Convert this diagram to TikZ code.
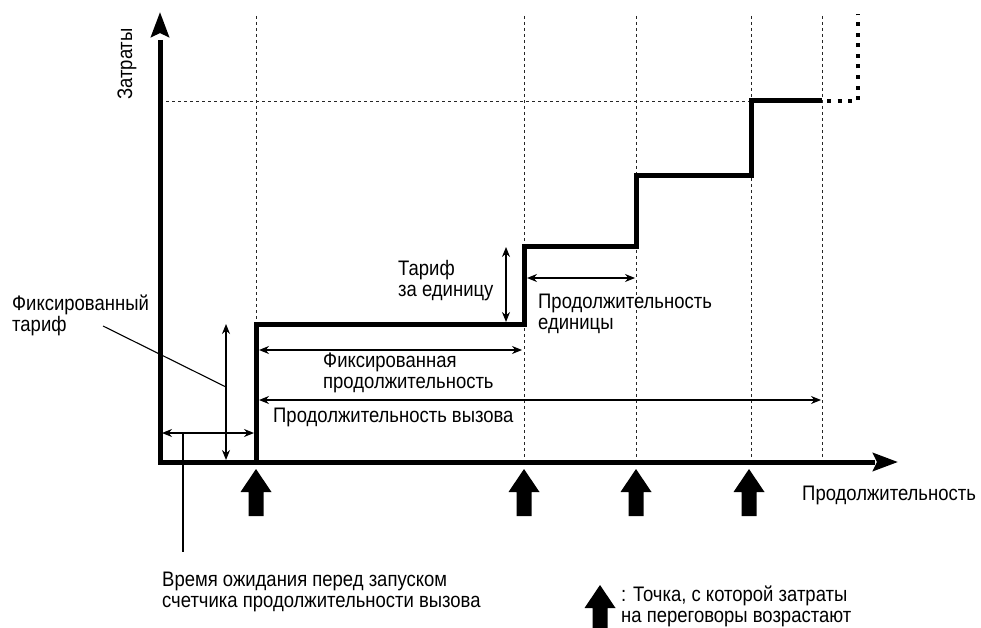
\documentclass[tikz,border=0pt]{standalone}
\usepackage{fontspec}
\setmainfont{Liberation Sans}[FakeStretch=0.88]
\usetikzlibrary{arrows.meta}
\begin{document}
\begin{tikzpicture}[x=1pt,y=-1pt,
  lbl/.style={inner sep=0pt, font=\fontsize{21}{21}\selectfont, align=left},
  thick line/.style={line width=5pt},
  guide/.style={line width=0.9pt, dash pattern=on 3pt off 3pt, black!85},
  dim/.style={line width=1.2pt, {Stealth[length=10pt,width=8pt]}-{Stealth[length=10pt,width=8pt]}},
  leader/.style={line width=1.1pt},
  axis/.style={line width=5pt, -{Stealth[length=25pt,width=18pt,inset=4pt]}},
  bigarrow/.style={fill=black, draw=none}]
\useasboundingbox (0,0) rectangle (981,628);
% guide lines
\foreach \gx/\gn in {256/ga,524/gb,636/gc,751/gd,822/ge}{
  \coordinate (\gn top) at (\gx,16);
  \coordinate (\gn bot) at (\gx,462);
  \draw[guide] (\gn top) -- (\gn bot);
}
\coordinate (hl) at (160,101);
\coordinate (hr) at (751,101);
\draw[guide] (hl) -- (hr);
% axes
\coordinate (origin) at (160,462);
\coordinate (ytip) at (160,12);
\coordinate (xtip) at (898,462);
\draw[line width=5pt, line join=miter] (ytip |- 0,40) -- (origin) -- (xtip -| 875,0);
\draw[axis] (160,30) -- (ytip);
\draw[axis] (880,462) -- (xtip);
% step function
\coordinate (s0) at (256,462);
\coordinate (s1) at (256,324);
\coordinate (s2) at (524,324);
\coordinate (s3) at (524,246);
\coordinate (s4) at (636,246);
\coordinate (s5) at (636,176);
\coordinate (s6) at (751,176);
\coordinate (s7) at (751,101);
\coordinate (s8) at (822,101);
\draw[thick line, line join=miter] (s0) -- (s1) -- (s2) -- (s3) -- (s4) -- (s5) -- (s6) -- (s7) -- (s8);
\coordinate (d1) at (858,101);
\coordinate (d2) at (858,14);
\draw[line width=4.5pt, dash pattern=on 4pt off 6.6pt] (827,101) -- (d1) -- (d2);
% dimension arrows
\coordinate (ft1) at (226,324);
\coordinate (ft2) at (226,460);
\draw[dim] (ft1) -- (ft2);
\coordinate (wt1) at (162,433);
\coordinate (wt2) at (254,433);
\draw[dim] (wt1) -- (wt2);
\coordinate (tu1) at (506,247);
\coordinate (tu2) at (506,322);
\draw[dim] (tu1) -- (tu2);
\coordinate (ud1) at (527,278);
\coordinate (ud2) at (635,278);
\draw[dim] (ud1) -- (ud2);
\coordinate (fd1) at (259,350);
\coordinate (fd2) at (522,350);
\draw[dim] (fd1) -- (fd2);
\coordinate (cd1) at (259,400);
\coordinate (cd2) at (821,400);
\draw[dim] (cd1) -- (cd2);
% labels (anchor at baseline of last line)
\node[lbl, rotate=90] (ylab) at (127,64) {Затраты};
\node[lbl, anchor=base west] (fixt) at (12,331) {Фиксированный\\тариф};
\node[lbl, anchor=base west] (tunit) at (398,296) {Тариф\\за единицу};
\node[lbl, anchor=base west] (udur) at (538,329) {Продолжительность\\единицы};
\node[lbl, anchor=base west] (fdur) at (323,388) {Фиксированная\\продолжительность};
\node[lbl, anchor=base west] (cdur) at (273,422) {Продолжительность вызова};
\node[lbl, anchor=base west] (xlab) at (802,500) {Продолжительность};
\node[lbl, anchor=base west] (wait) at (162,607) {Время ожидания перед запуском\\счетчика продолжительности вызова};
\node[lbl, anchor=base west] (legend) at (621,622) {: Точка, с которой затраты\\на переговоры возрастают};
% leaders
\coordinate (fl1) at (103,326);
\coordinate (fl2) at (226,387);
\draw[leader] (fl1) -- (fl2);
\coordinate (wl1) at (183,433);
\coordinate (wl2) at (183,552);
\draw[leader] (wl1) -- (wl2);
% big arrows
\foreach \ax/\an in {256/ba,524/bb,636/bc,749/bd}{
  \fill[bigarrow] (\ax,469) -- (\ax+15.5,492) -- (\ax+7.5,492) -- (\ax+7.5,516) -- (\ax-7.5,516) -- (\ax-7.5,492) -- (\ax-15.5,492) -- cycle;
  \coordinate (\an) at (\ax,469);
}
\fill[bigarrow] (600,585) -- (615.5,608) -- (607.5,608) -- (607.5,628) -- (592.5,628) -- (592.5,608) -- (584.5,608) -- cycle;
\end{tikzpicture}
\end{document}
